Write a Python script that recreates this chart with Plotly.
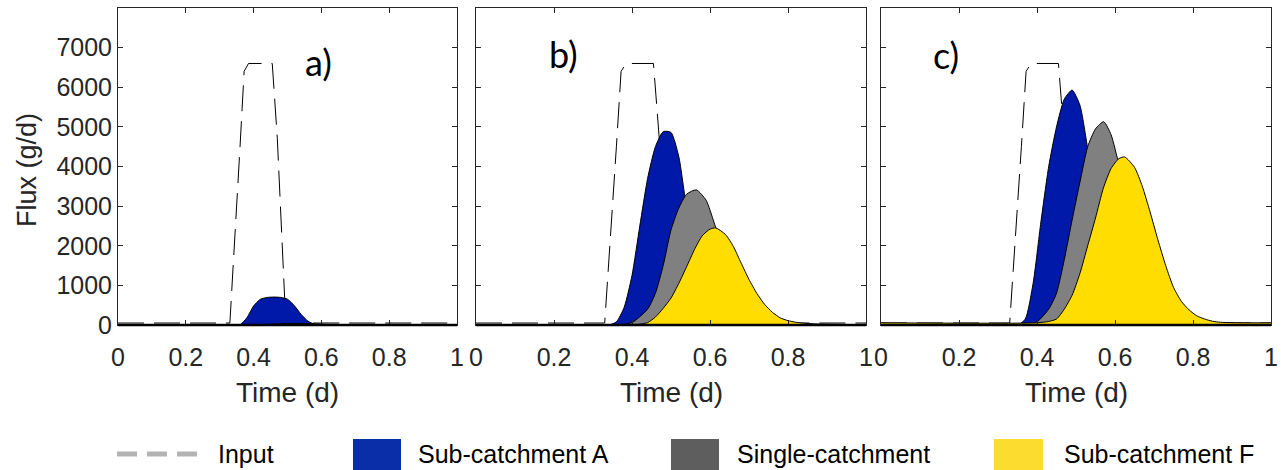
import plotly.graph_objects as go

W, H = 1281, 470

# ---------------- data ----------------
x_ticks = [0, 0.2, 0.4, 0.6, 0.8, 1.0]
x_tick_labels = ["0", "0.2", "0.4", "0.6", "0.8", "1"]
y_ticks = [0, 1000, 2000, 3000, 4000, 5000, 6000, 7000]
y_tick_labels = ["0", "1000", "2000", "3000", "4000", "5000", "6000", "7000"]

input_t = [0, 0.33, 0.36, 0.372, 0.385, 0.455, 0.47, 0.495, 1.0]
input_flux = [50, 50, 4500, 6400, 6600, 6600, 4700, 50, 50]

# panel a
a_subA_t = [0, 0.35, 0.36, 0.38, 0.40, 0.42, 0.44, 0.46, 0.48, 0.50, 0.52, 0.54, 0.56, 0.58, 0.60, 1.0]
a_subA_flux = [0, 0, 5, 180, 480, 650, 695, 705, 695, 650, 490, 270, 100, 20, 0, 0]
a_single_t = [0, 0.40, 0.45, 0.50, 0.55, 0.60, 0.65, 1.0]
a_single_flux = [0, 0, 20, 40, 35, 15, 0, 0]
a_subF_t = [0, 0.45, 0.50, 0.55, 0.60, 0.65, 0.70, 1.0]
a_subF_flux = [0, 0, 15, 25, 20, 5, 0, 0]

# panel b
b_subA_t = [0, 0.34, 0.36, 0.38, 0.40, 0.42, 0.44, 0.46, 0.48, 0.50, 0.52, 0.54, 0.56, 0.58, 0.60, 0.62, 0.65, 0.70, 1.0]
b_subA_flux = [0, 0, 80, 450, 1250, 2500, 3700, 4500, 4880, 4860, 4250, 2950, 2000, 1200, 650, 300, 80, 10, 0]
b_single_t = [0, 0.37, 0.40, 0.44, 0.46, 0.48, 0.50, 0.52, 0.54, 0.565, 0.59, 0.61, 0.63, 0.65, 0.67, 0.69, 0.72, 0.76, 0.82, 1.0]
b_single_flux = [0, 0, 60, 400, 800, 1500, 2400, 2950, 3300, 3410, 3150, 2600, 2000, 1400, 900, 550, 220, 60, 10, 0]
b_subF_t = [0, 0.40, 0.42, 0.44, 0.46, 0.48, 0.50, 0.52, 0.54, 0.56, 0.58, 0.60, 0.615, 0.64, 0.66, 0.68, 0.70, 0.72,
            0.74, 0.76, 0.78, 0.80, 0.82, 0.84, 0.88, 0.92, 1.0]
b_subF_flux = [0, 0, 20, 60, 200, 420, 680, 1050, 1470, 1900, 2250, 2420, 2450, 2280, 1980, 1560, 1150, 800,
               520, 320, 180, 110, 70, 45, 25, 15, 10]

# panel c
c_subA_t = [0, 0.35, 0.37, 0.39, 0.41, 0.43, 0.45, 0.47, 0.49, 0.51, 0.53, 0.55, 0.57, 0.59, 0.61, 0.63, 0.66, 0.70, 1.0]
c_subA_flux = [0, 0, 150, 1050, 2600, 4000, 5000, 5700, 5930, 5550, 4450, 3200, 2000, 1100, 500, 200, 50, 10, 0]
c_single_t = [0, 0.37, 0.40, 0.43, 0.45, 0.47, 0.49, 0.51, 0.53, 0.55, 0.571, 0.59, 0.61, 0.63, 0.65, 0.67, 0.69,
              0.71, 0.74, 0.78, 0.85, 1.0]
c_single_flux = [0, 0, 80, 400, 800, 1650, 2650, 3600, 4500, 4950, 5130, 4800, 4050, 3250, 2400, 1650, 1050,
                 620, 250, 70, 15, 0]
c_subF_t = [0, 0.40, 0.43, 0.45, 0.47, 0.49, 0.51, 0.53, 0.55, 0.57, 0.59, 0.61, 0.625, 0.65, 0.67, 0.69, 0.71,
            0.73, 0.75, 0.77, 0.79, 0.81, 0.83, 0.85, 0.87, 0.90, 1.0]
c_subF_flux = [55, 55, 90, 150, 400, 750, 1300, 2000, 2700, 3450, 3950, 4200, 4240, 3980, 3500, 2850, 2150,
               1500, 950, 600, 380, 230, 150, 95, 70, 58, 55]

panel_labels = ["a)", "b)", "c)"]
legend_names = ["Input", "Sub-catchment A", "Single-catchment", "Sub-catchment F"]

# ---------------- styles ----------------
BLUE = "#0019a8"
GRAY = "#808080"
YELLOW = "#ffdd00"
AXC = "#262626"
FONT = "Liberation Sans, Arial, Helvetica, sans-serif"

panels = [
    (a_subA_t, a_subA_flux, a_single_t, a_single_flux, a_subF_t, a_subF_flux),
    (b_subA_t, b_subA_flux, b_single_t, b_single_flux, b_subF_t, b_subF_flux),
    (c_subA_t, c_subA_flux, c_single_t, c_single_flux, c_subF_t, c_subF_flux),
]
# pixel extents of the three plot areas
x_px = [(118, 457), (476, 866), (881, 1271)]
y_top_px, y_bot_px = 8, 325

fig = go.Figure()

for i, (tA, fA, tS, fS, tF, fF) in enumerate(panels):
    xa = "x" if i == 0 else f"x{i+1}"
    ya = "y" if i == 0 else f"y{i+1}"
    fig.add_trace(go.Scatter(x=input_t, y=input_flux, mode="lines", xaxis=xa, yaxis=ya,
                             line=dict(color="black", width=1, dash="26px,10px"), showlegend=False,
                             hoverinfo="skip"))
    for t, f, col in [(tA, fA, BLUE), (tS, fS, GRAY), (tF, fF, YELLOW)]:
        fig.add_trace(go.Scatter(x=t, y=f, mode="lines", xaxis=xa, yaxis=ya, fill="tozeroy",
                                 fillcolor=col, line=dict(color="black", width=1, shape="spline",
                                                          smoothing=0.6),
                                 showlegend=False, hoverinfo="skip"))

layout_axes = {}
for i in range(3):
    x0, x1 = x_px[i]
    sfx = "" if i == 0 else str(i + 1)
    layout_axes[f"xaxis{sfx}"] = dict(
        domain=[x0 / W, x1 / W], range=[0, 1], anchor=f"y{sfx}", automargin=False,
        tickvals=x_ticks, ticktext=x_tick_labels, ticks="inside", ticklen=5, tickcolor=AXC,
        showline=True, linecolor=AXC, linewidth=1, mirror="ticks", showgrid=False, zeroline=False,
        tickfont=dict(family=FONT, size=25, color=AXC), ticklabelstandoff=10,
    )
    layout_axes[f"yaxis{sfx}"] = dict(
        domain=[1 - y_bot_px / H, 1 - y_top_px / H], range=[0, 8000], anchor=f"x{sfx}", automargin=False,
        tickvals=y_ticks, ticktext=y_tick_labels if i == 0 else [""] * len(y_ticks),
        showticklabels=(i == 0), ticks="inside", ticklen=5, tickcolor=AXC,
        showline=True, linecolor=AXC, linewidth=1, mirror="ticks", showgrid=False, zeroline=False,
        tickfont=dict(family=FONT, size=25, color=AXC),
    )

shapes = []
annotations = []
for i in range(3):
    x0, x1 = x_px[i]
    sfx = "" if i == 0 else str(i + 1)
    # thick bottom axis line
    shapes.append(dict(type="line", xref=f"x{sfx} domain", yref=f"y{sfx} domain", x0=0, x1=1, y0=0, y1=0,
                       line=dict(color="black", width=2.5)))
    annotations.append(dict(text="Time (d)", xref="paper", yref="paper", x=(x0 + x1) / 2 / W, y=1 - 392 / H,
                            showarrow=False, xanchor="center", yanchor="middle",
                            font=dict(family=FONT, size=28, color=AXC)))

label_pos = [(318, 62), (563, 54), (946, 55)]
for lab, (px, py) in zip(panel_labels, label_pos):
    annotations.append(dict(text=lab, xref="paper", yref="paper", x=px / W, y=1 - py / H, showarrow=False,
                            xanchor="center", yanchor="middle",
                            font=dict(family="Lato, Open Sans, sans-serif", size=36, color="black")))

annotations.append(dict(text="Flux (g/d)", xref="paper", yref="paper", x=27 / W, y=1 - 170 / H,
                        showarrow=False, textangle=-90, xanchor="center", yanchor="middle",
                        font=dict(family=FONT, size=27, color=AXC)))

# ---------------- legend (drawn manually) ----------------
leg_y = 454
shapes.append(dict(type="line", xref="paper", yref="paper", x0=117 / W, x1=197 / W,
                   y0=1 - leg_y / H, y1=1 - leg_y / H, line=dict(color="#b3b3b3", width=5, dash="20px,10px")))
leg_boxes = [(353, 401, "#0a2ea8"), (671, 719, "#5e5e5e"), (994, 1043, "#fcdc2e")]
for bx0, bx1, col in leg_boxes:
    shapes.append(dict(type="rect", xref="paper", yref="paper", x0=bx0 / W, x1=bx1 / W,
                       y0=1 - 472 / H, y1=1 - 439 / H, fillcolor=col, line=dict(width=0)))
leg_text_x = [216, 416, 735, 1062]
for name, tx in zip(legend_names, leg_text_x):
    annotations.append(dict(text=name, xref="paper", yref="paper", x=tx / W, y=1 - leg_y / H, showarrow=False,
                            xanchor="left", yanchor="middle", font=dict(family=FONT, size=25, color="black")))

fig.update_layout(
    width=W, height=H, margin=dict(l=0, r=0, t=0, b=0, autoexpand=False),
    paper_bgcolor="white", plot_bgcolor="white", showlegend=False,
    shapes=shapes, annotations=annotations, **layout_axes,
)

fig.write_html("out.html")
